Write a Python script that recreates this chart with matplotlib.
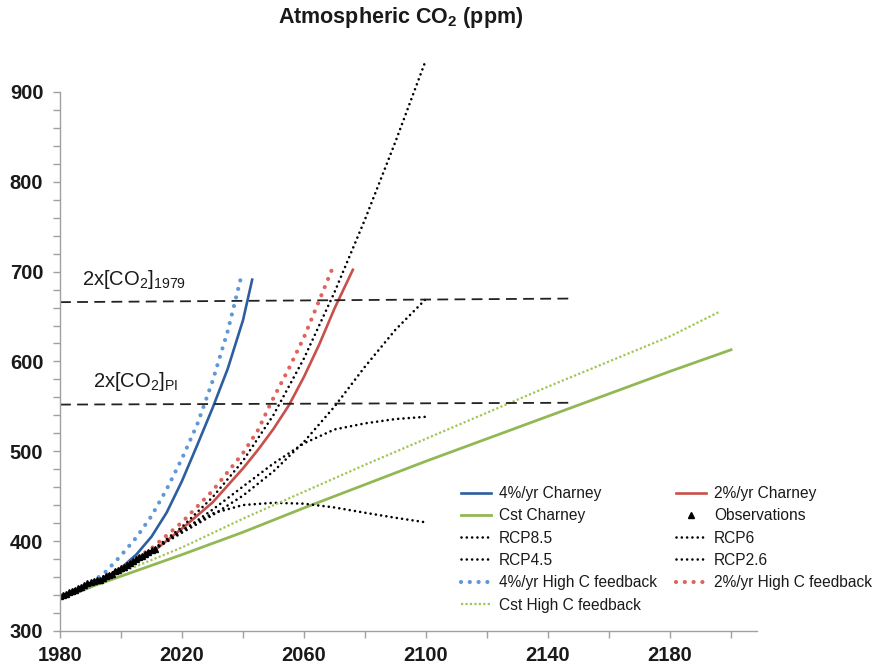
import matplotlib
matplotlib.use("Agg")
import matplotlib.pyplot as plt
from matplotlib.ticker import FixedLocator, NullFormatter

plt.rcParams['font.family'] = ['Liberation Sans', 'DejaVu Sans']
plt.rcParams['mathtext.fontset'] = 'custom'
plt.rcParams['mathtext.rm'] = 'Liberation Sans'
plt.rcParams['mathtext.it'] = 'Liberation Sans:italic'
plt.rcParams['mathtext.bf'] = 'Liberation Sans:bold'

# ---------------- data ----------------
yrs_4pct = [1980, 1985, 1990, 1995, 2000, 2005, 2010, 2015, 2020, 2025, 2030, 2035, 2040, 2043]
co2_4pct = [337, 342, 349, 358, 370, 385, 405, 432, 467, 507, 548, 592, 646, 691]

yrs_4pct_hc = [1980, 1985, 1990, 1995, 2000, 2005, 2010, 2015, 2020, 2025, 2030, 2035, 2039.6]
co2_4pct_hc = [337, 344, 353, 366, 384, 404, 428, 458, 492, 530, 578, 634, 697]

yrs_2pct = [1980, 1990, 2000, 2010, 2020, 2030, 2040, 2045, 2050, 2055, 2060, 2065, 2070, 2076]
co2_2pct = [337, 351, 367, 387, 414, 443, 481, 502, 525, 551, 583, 619, 659, 702]

yrs_2pct_hc = [1980, 1990, 2000, 2010, 2020, 2030, 2040, 2045, 2049, 2055, 2060, 2065, 2069]
co2_2pct_hc = [337, 352, 370, 392, 421, 456, 498, 524, 553, 592, 627, 668, 701]

yrs_cst = [1980, 2000, 2020, 2040, 2060, 2080, 2100, 2120, 2140, 2160, 2180, 2200]
co2_cst = [337, 361, 385, 410, 437, 463, 489, 514, 539, 564, 589, 613]

yrs_cst_hc = [1980, 2000, 2020, 2040, 2060, 2080, 2100, 2120, 2140, 2160, 2180, 2196]
co2_cst_hc = [337, 365, 393, 425, 455, 485, 514, 543, 572, 600, 628, 655]

yrs_rcp = [1980, 1990, 2000, 2010, 2020, 2030, 2040, 2050, 2060, 2070, 2080, 2090, 2100]
rcp85 = [338.4, 354.0, 368.9, 389.3, 415.8, 448.8, 489.4, 540.5, 603.5, 677.1, 758.2, 844.8, 935.9]
rcp6 = [338.4, 354.0, 368.9, 389.1, 409.4, 428.9, 450.7, 477.7, 510.6, 549.8, 594.3, 635.4, 669.7]
rcp45 = [338.4, 354.0, 368.9, 389.1, 411.1, 435.0, 460.8, 486.5, 508.9, 524.3, 531.1, 535.9, 538.4]
rcp26 = [338.4, 354.0, 368.9, 389.0, 412.1, 430.8, 440.2, 442.7, 441.7, 437.5, 431.6, 426.0, 420.9]

yrs_obs = list(range(1980, 2012))
co2_obs = [338.8, 340.1, 341.5, 343.1, 344.7, 346.1, 347.4, 349.2, 351.6, 353.1,
           354.4, 355.6, 356.5, 357.1, 358.8, 360.8, 362.6, 363.7, 366.7, 368.4,
           369.6, 371.1, 373.3, 375.8, 377.5, 379.8, 381.9, 383.8, 385.6, 387.4,
           389.9, 391.7]

ref_years = [1980, 2147]
ref_2x1979 = [666, 670]
ref_2xPI = [552, 554]

x_major = [1980, 2020, 2060, 2100, 2140, 2180]
x_minor = [2000, 2040, 2080, 2120, 2160, 2200]
y_major = [300, 400, 500, 600, 700, 800, 900]
y_minor = [v for v in range(300, 901, 20) if v % 100]

# ---------------- figure ----------------
fig = plt.figure(figsize=(8.86, 6.67), dpi=100)
ax = fig.add_axes([60 / 886, 36 / 667, 697 / 886, 593 / 667])

c_blue, c_blue_l = '#2d5e9e', '#5f98d6'
c_red, c_red_l = '#c8504b', '#e0625c'
c_green, c_green_l = '#92b855', '#a2c655'

dot = (0, (0.01, 2.0))

h = {}
h['4c'], = ax.plot(yrs_4pct, co2_4pct, color=c_blue, lw=1.9, label='4%/yr Charney')
h['2c'], = ax.plot(yrs_2pct, co2_2pct, color=c_red, lw=1.9, label='2%/yr Charney')
h['cc'], = ax.plot(yrs_cst, co2_cst, color=c_green, lw=2.0, label='Cst Charney')
h['85'], = ax.plot(yrs_rcp, rcp85, color='black', lw=1.9, ls=dot,
                   dash_capstyle='round', label='RCP8.5')
h['6'], = ax.plot(yrs_rcp, rcp6, color='black', lw=1.9, ls=dot,
                  dash_capstyle='round', label='RCP6')
h['45'], = ax.plot(yrs_rcp, rcp45, color='black', lw=1.9, ls=dot,
                   dash_capstyle='round', label='RCP4.5')
h['26'], = ax.plot(yrs_rcp, rcp26, color='black', lw=1.9, ls=dot,
                   dash_capstyle='round', label='RCP2.6')
h['4h'], = ax.plot(yrs_4pct_hc, co2_4pct_hc, color=c_blue_l, lw=3.0, ls=(0, (0.01, 2.1)),
                   dash_capstyle='round', label='4%/yr High C feedback')
h['2h'], = ax.plot(yrs_2pct_hc, co2_2pct_hc, color=c_red_l, lw=3.0, ls=(0, (0.01, 2.1)),
                   dash_capstyle='round', label='2%/yr High C feedback')
h['ch'], = ax.plot(yrs_cst_hc, co2_cst_hc, color=c_green_l, lw=1.6, ls=(0, (1.0, 1.0)),
                   label='Cst High C feedback')
h['obs'], = ax.plot(yrs_obs, co2_obs, ls='none', marker='^', ms=4.5, color='black',
                    mec='black', label='Observations')

ax.plot(ref_years, ref_2x1979, color='#222222', lw=1.3, ls=(0, (6, 3.5)))
ax.plot(ref_years, ref_2xPI, color='#222222', lw=1.3, ls=(0, (6, 3.5)))

ax.text(1987.2, 685, '2x[CO$_\\mathregular{2}$]$_\\mathregular{1979}$', fontsize=14.5,
        ha='left', va='baseline', color='#1a1a1a')
ax.text(1990.9, 572, '2x[CO$_\\mathregular{2}$]$_\\mathregular{PI}$', fontsize=14.5,
        ha='left', va='baseline', color='#1a1a1a')

ax.set_xlim(1980, 2208.5)
ax.set_ylim(300, 960)

for s in ['top', 'right']:
    ax.spines[s].set_visible(False)
for s in ['left', 'bottom']:
    ax.spines[s].set_color('#a0a0a0')
    ax.spines[s].set_linewidth(1.0)
ax.spines['left'].set_bounds(300, 900)

ax.xaxis.set_major_locator(FixedLocator(x_major))
ax.xaxis.set_minor_locator(FixedLocator(x_minor))
ax.yaxis.set_major_locator(FixedLocator(y_major))
ax.yaxis.set_minor_locator(FixedLocator(y_minor))
ax.xaxis.set_minor_formatter(NullFormatter())
ax.yaxis.set_minor_formatter(NullFormatter())
ax.tick_params(which='both', direction='out', length=5, width=1.0, color='#a0a0a0')
ax.tick_params(axis='y', which='major', pad=7)
ax.tick_params(axis='x', which='major', pad=6)
for lab in ax.get_xticklabels() + ax.get_yticklabels():
    lab.set_fontsize(14.5)
    lab.set_fontweight('bold')
    lab.set_color('#1a1a1a')

fig.text(401 / 886, 1 - 17 / 667, 'Atmospheric CO$_\\mathbf{2}$ (ppm)', fontsize=15.5,
         fontweight='bold', ha='center', va='center', color='#1a1a1a')

order = ['4c', 'cc', '85', '45', '4h', 'ch', '2c', 'obs', '6', '26', '2h']
leg = fig.legend([h[k] for k in order], [h[k].get_label() for k in order],
                 loc='upper left', bbox_to_anchor=(461 / 886, 1 - 486 / 667),
                 ncol=2, frameon=False, fontsize=11.2, handlelength=1.95,
                 handletextpad=0.5, columnspacing=1.2, labelspacing=0.47,
                 borderpad=0, borderaxespad=0)
for t in leg.get_texts():
    t.set_color('#1a1a1a')

fig.savefig('out.png', dpi=100)
